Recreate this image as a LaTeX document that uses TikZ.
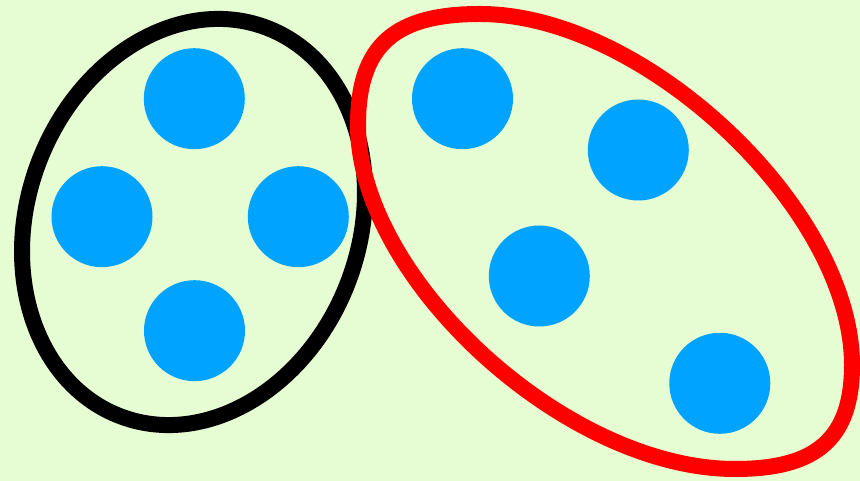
\documentclass[tikz,border=0pt]{standalone}
\usepackage{tikz}
\definecolor{bgc}{RGB}{230,252,210}
\definecolor{dotc}{RGB}{0,163,255}
\definecolor{redc}{RGB}{255,0,0}
\begin{document}
\begin{tikzpicture}[x=1pt,y=1pt,
  dot/.style={circle,fill=dotc,draw=none,minimum size=101pt,inner sep=0pt},
  ring/.style={line width=16pt}]
\fill[bgc] (0,0) rectangle (860,481);
\useasboundingbox (0,0) rectangle (860,481);
% black group outline
\draw[ring,black,rotate around={-20.3:(193.5,259)}] (193.5,259) ellipse [x radius=165.9, y radius=207.6];
% red group outline
\draw[ring,redc] (480,467) .. controls (645,467) and (852,271) .. (852,116)
  .. controls (852,41) and (815,12) .. (735,12)
  .. controls (565,12) and (358,203) .. (358,356)
  .. controls (358,436) and (395,467) .. cycle;
% dots
\node[dot] (a1) at (194.3,382.3) {};
\node[dot] (a2) at (102,264.3) {};
\node[dot] (a3) at (298.3,264.3) {};
\node[dot] (a4) at (194.5,150.3) {};
\node[dot] (b1) at (462.5,382.3) {};
\node[dot] (b2) at (638.3,331) {};
\node[dot] (b3) at (539.3,205) {};
\node[dot] (b4) at (719.8,97.7) {};
\end{tikzpicture}
\end{document}
